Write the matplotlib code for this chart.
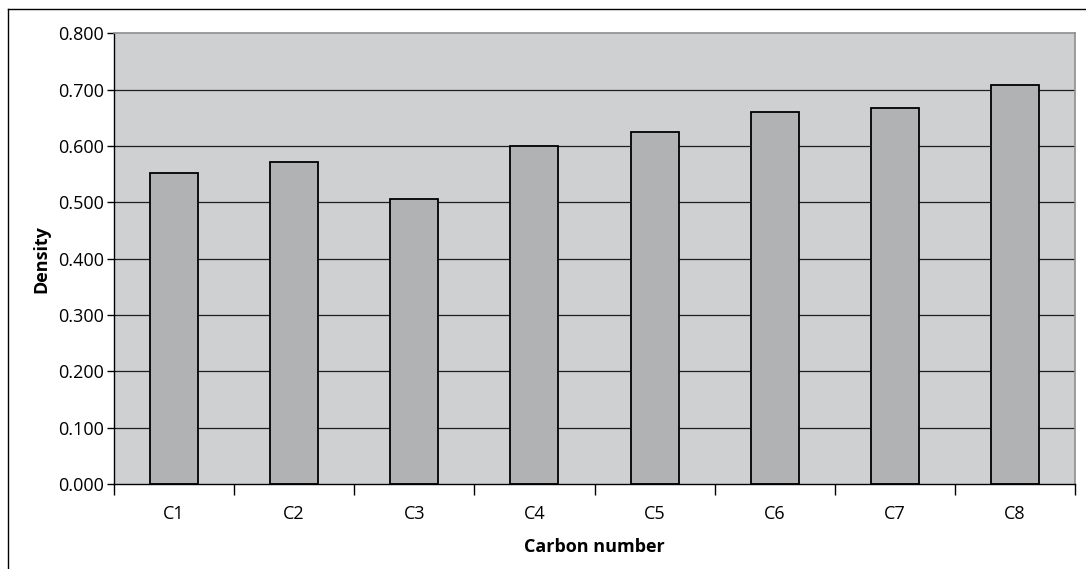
import matplotlib
matplotlib.use("Agg")
import matplotlib.pyplot as plt
from matplotlib.lines import Line2D
import numpy as np

categories = ["C1", "C2", "C3", "C4", "C5", "C6", "C7", "C8"]
density = [0.552, 0.571, 0.505, 0.600, 0.624, 0.660, 0.668, 0.709]
y_ticks = [0.0, 0.1, 0.2, 0.3, 0.4, 0.5, 0.6, 0.7, 0.8]

plt.rcParams["font.family"] = ["Open Sans", "DejaVu Sans"]

W, H = 1086, 569
fig = plt.figure(figsize=(W / 100, H / 100), dpi=100)
ax = fig.add_axes([114 / W, 1 - 484 / H, (1075 - 114) / W, (484 - 33.3) / H])

# outer chart frame (only top and left edges fall inside the image)
fig.add_artist(Line2D([8 / W, 8 / W], [0, 1 - 9 / H], transform=fig.transFigure,
                      color="black", lw=1.0))
fig.add_artist(Line2D([8 / W, 1], [1 - 9 / H, 1 - 9 / H], transform=fig.transFigure,
                      color="black", lw=1.0))

ax.set_facecolor("#cfd0d2")
x = np.arange(len(categories))
for yv in y_ticks[1:-1]:
    ax.axhline(yv, color="#1e1e1e", lw=0.9, zorder=1)

ax.bar(x, density, width=0.4, color="#b1b2b4", edgecolor="black",
       linewidth=1.3, zorder=2)

ax.set_xlim(-0.5, len(categories) - 0.5)
ax.set_ylim(0, 0.8)

ax.set_yticks(y_ticks)
ax.set_yticklabels([f"{v:.3f}" for v in y_ticks])
ax.set_xticks(np.arange(len(categories) + 1) - 0.5)
ax.set_xticklabels([])
ax.set_xticks(x, minor=True)
ax.set_xticklabels(categories, minor=True)

ax.tick_params(axis="y", direction="out", length=5, width=1, labelsize=13,
               pad=2, colors="black")
ax.tick_params(axis="x", which="major", direction="out", length=8, width=1)
ax.tick_params(axis="x", which="minor", length=0, labelsize=13, pad=15)

for side in ("left", "bottom"):
    ax.spines[side].set_color("black")
    ax.spines[side].set_linewidth(1.0)
for side in ("top", "right"):
    ax.spines[side].set_color("#8e8e8e")
    ax.spines[side].set_linewidth(1.2)

ax.set_xlabel("Carbon number", fontsize=13, fontweight="bold", labelpad=11)
ax.set_ylabel("Density", fontsize=13, fontweight="bold", labelpad=6)

fig.savefig("out.png", dpi=100)
